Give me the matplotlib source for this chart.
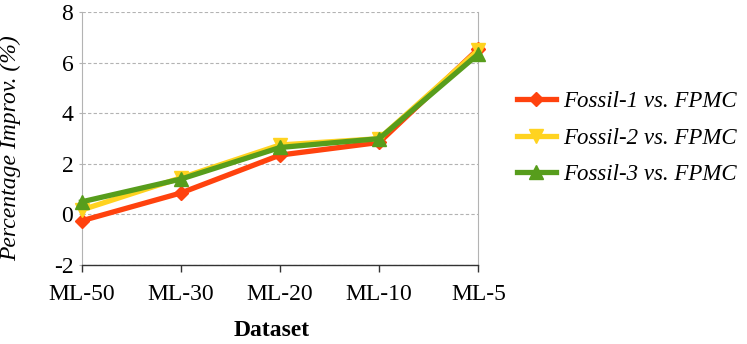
import matplotlib
matplotlib.use("Agg")
import matplotlib.pyplot as plt

categories = ["ML-50", "ML-30", "ML-20", "ML-10", "ML-5"]
fossil1 = [-0.25, 0.85, 2.35, 2.85, 6.55]
fossil2 = [0.18, 1.45, 2.75, 3.0, 6.5]
fossil3 = [0.5, 1.4, 2.65, 3.0, 6.35]
series_labels = ["Fossil-1 vs. FPMC", "Fossil-2 vs. FPMC", "Fossil-3 vs. FPMC"]
yticks = [-2, 0, 2, 4, 6, 8]

plt.rcParams['font.family'] = ['Liberation Serif', 'DejaVu Serif']

fig = plt.figure(figsize=(7.47, 3.44), dpi=100)
ax = fig.add_axes([81.7/747, 1-265/344, (478.3-81.7)/747, (265-12.3)/344])

x = list(range(len(categories)))
colors = ["#ff420e", "#ffd320", "#579d1c"]
markers = ["D", "v", "^"]
msizes = [7, 10, 10]
for vals, c, m, ms, lab in zip([fossil1, fossil2, fossil3], colors, markers, msizes, series_labels):
    ax.plot(x, vals, color=c, lw=3.8, marker=m, ms=ms, label=lab, clip_on=False, zorder=3)

ax.set_xlim(0, len(categories)-1)
ax.set_ylim(-2, 8)
ax.set_yticks(yticks)
ax.set_yticklabels([str(v) for v in yticks])
ax.set_xticks(x)
ax.set_xticklabels(categories)

ax.grid(axis='y', color='#b3b3b3', linestyle=(0, (3, 2)), lw=0.8)
ax.set_axisbelow(True)
ax.spines['top'].set_visible(False)
ax.spines['left'].set_color('#b3b3b3')
ax.spines['right'].set_color('#b3b3b3')
ax.spines['bottom'].set_color('#333333')
ax.spines['bottom'].set_linewidth(1.0)
ax.tick_params(axis='x', direction='out', length=5, width=1, color='#333333', labelsize=17, pad=9)
ax.tick_params(axis='y', direction='out', length=2, width=0.8, color='#b3b3b3', labelsize=17, pad=4)

ax.set_ylabel("Percentage Improv. (%)", fontsize=17, style='italic')
ax.yaxis.set_label_coords(-0.152, 0.463)
fig.text(272/747, 1-331/344, "Dataset", ha='center', va='center', fontsize=17, fontweight='bold')

leg = fig.legend(loc='center left', bbox_to_anchor=(517/747, 1-138/344), frameon=False,
                 prop={'size': 16.5, 'style': 'italic'}, handlelength=1.7, handletextpad=0.3,
                 labelspacing=0.68, borderpad=0, borderaxespad=0)

fig.savefig("out.png", dpi=100)
